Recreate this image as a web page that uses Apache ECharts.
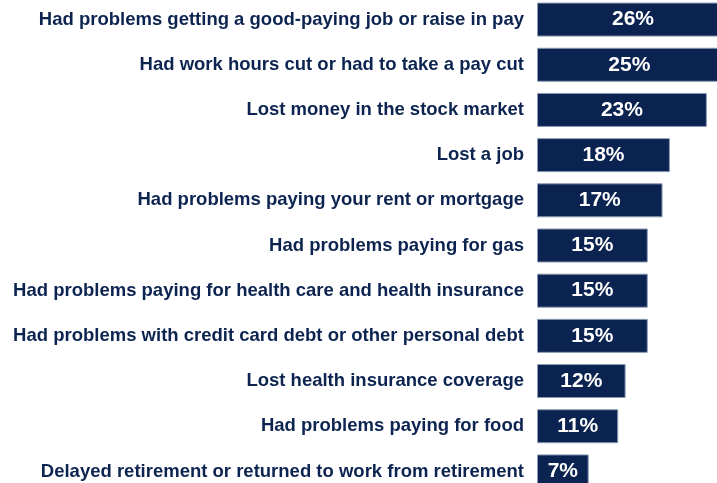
<!DOCTYPE html>
<html><head><meta charset="utf-8">
<script src="https://cdn.jsdelivr.net/npm/echarts@6/dist/echarts.min.js"></script>
<style>html,body{margin:0;padding:0;background:#fff;overflow:hidden}#c{width:717px;height:483px}</style>
</head><body><div id="c"></div>
<script>
const categories = [
  "Had problems getting a good-paying job or raise in pay",
  "Had work hours cut or had to take a pay cut",
  "Lost money in the stock market",
  "Lost a job",
  "Had problems paying your rent or mortgage",
  "Had problems paying for gas",
  "Had problems paying for health care and health insurance",
  "Had problems with credit card debt or other personal debt",
  "Lost health insurance coverage",
  "Had problems paying for food",
  "Delayed retirement or returned to work from retirement"
];
const values = [26, 25, 23, 18, 17, 15, 15, 15, 12, 11, 7];

const chart = echarts.init(document.getElementById('c'));
chart.setOption({
  animation: false,
  grid: { left: 537, right: -12, top: -3, bottom: -11, outerBoundsMode: 'none', containLabel: false },
  xAxis: { type: 'value', min: 0, max: 26, show: false },
  yAxis: {
    type: 'category', data: categories, inverse: true,
    axisLine: { show: false }, axisTick: { show: false },
    axisLabel: { color: '#0d2451', fontFamily: 'Liberation Sans, Arial, sans-serif', fontWeight: 'bold', fontSize: 18.5, margin: 13 }
  },
  series: [{
    type: 'bar', data: values, barWidth: 34,
    itemStyle: { color: '#0a2350', borderColor: '#8c9ab3', borderWidth: 1 },
    label: { show: true, position: 'inside', formatter: '{c}%', color: '#fff', fontFamily: 'Liberation Sans, Arial, sans-serif', fontWeight: 'bold', fontSize: 21 }
  }]
});
</script></body></html>
